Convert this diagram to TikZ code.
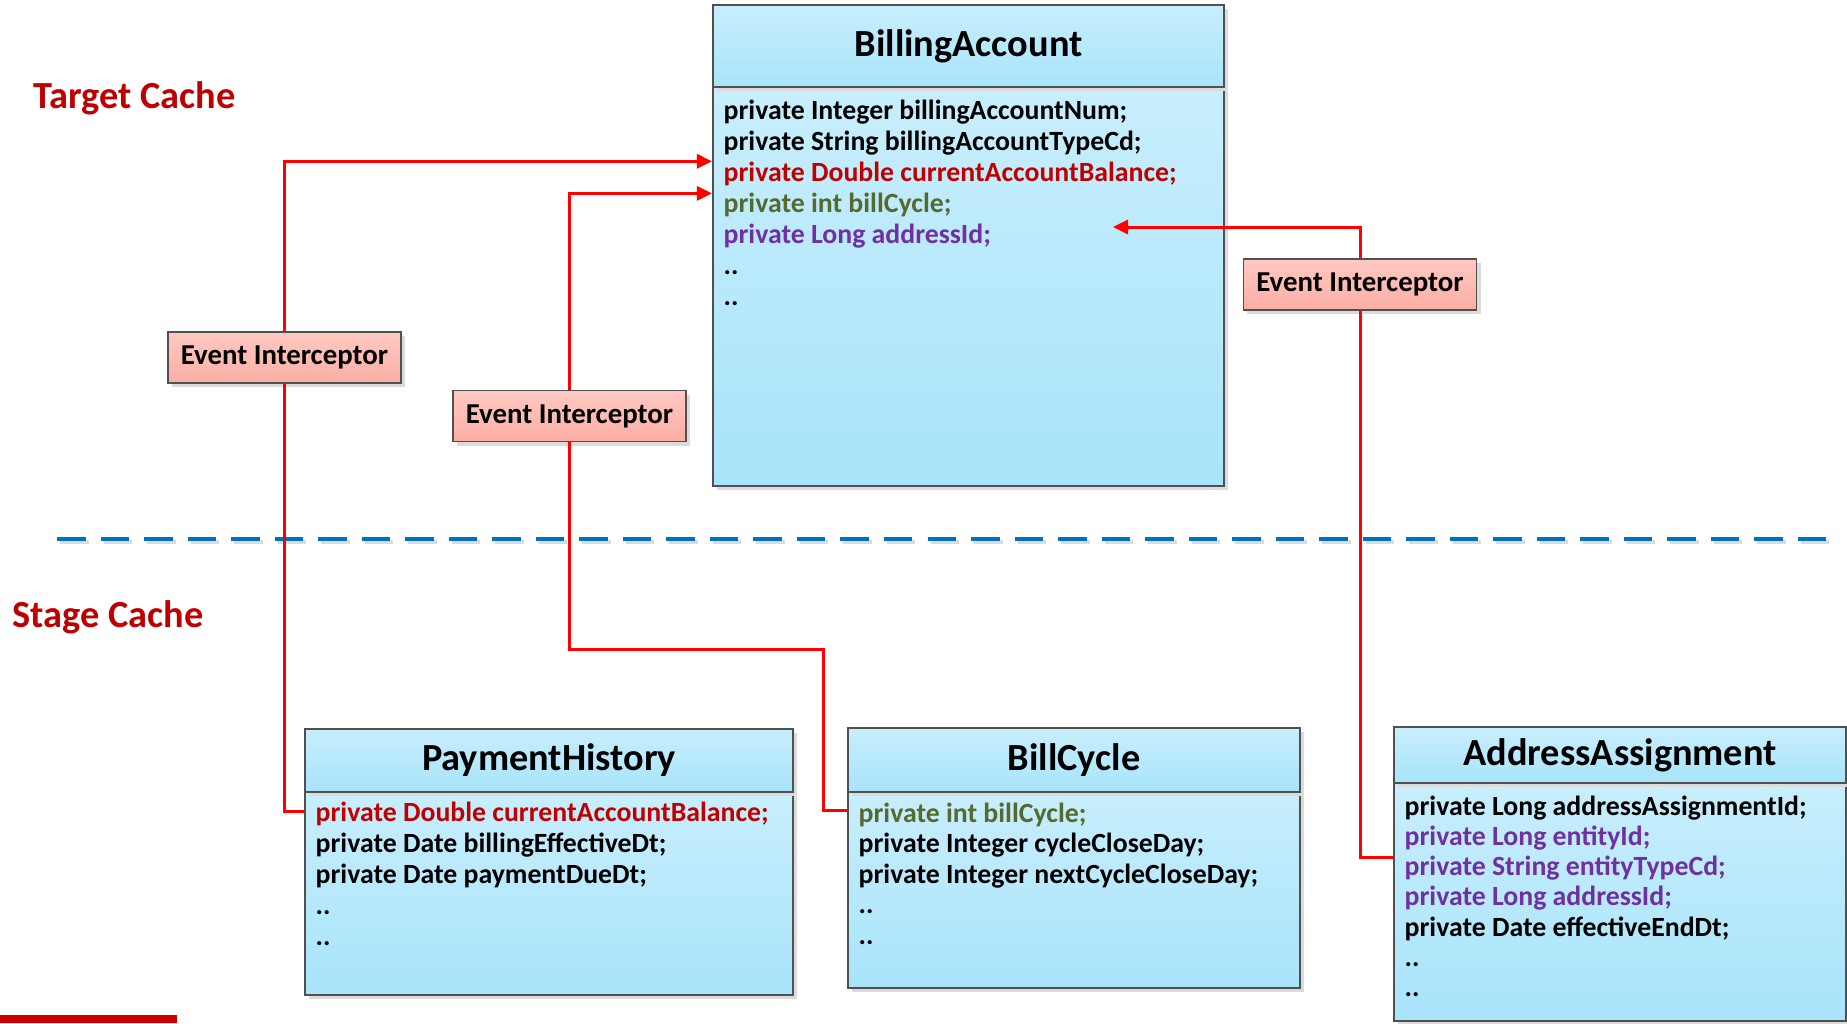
\documentclass[tikz,border=0pt]{standalone}
\usepackage{fontspec}
\setmainfont{Carlito}
\usepackage{tikz}
\usetikzlibrary{arrows.meta, shadows, positioning}

\definecolor{capred}{RGB}{192,0,0}
\definecolor{barred}{RGB}{204,0,0}
\definecolor{wirered}{RGB}{255,0,0}
\definecolor{fieldolive}{RGB}{86,105,46}
\definecolor{fieldpurple}{RGB}{112,48,160}
\definecolor{linegray}{RGB}{80,80,80}
\definecolor{skytop}{RGB}{200,238,252}
\definecolor{skybot}{RGB}{168,228,251}
\definecolor{pinktop}{RGB}{255,201,194}
\definecolor{pinkbot}{RGB}{250,174,164}
\definecolor{sepblue}{RGB}{0,112,192}

\begin{document}
\begin{tikzpicture}[
  x=0.01cm, y=-0.01cm,
  boxshadow/.style={drop shadow={shadow xshift=0.04cm, shadow yshift=-0.04cm, fill=black!14, opacity=1}},
  classpart/.style={rectangle, draw=linegray, line width=0.018cm, top color=skytop, bottom color=skybot, anchor=north west, inner sep=0, boxshadow},
  classname/.style={classpart, font=\fontsize{10.9}{13}\selectfont\bfseries},
  field/.style={anchor=base west, inner xsep=0.11cm, inner ysep=0, font=\fontsize{7.9}{9}\selectfont\bfseries},
  hook/.style={rectangle, draw=linegray, line width=0.018cm, top color=pinktop, bottom color=pinkbot, minimum width=2.33cm, minimum height=0.51cm, inner sep=0, font=\fontsize{8.2}{10}\selectfont\bfseries, boxshadow},
  cachelabel/.style={anchor=base west, inner sep=0, text=capred, font=\fontsize{10.9}{13}\selectfont\bfseries},
  wire/.style={draw=wirered, line width=0.03cm},
  feed/.style={wire, -{Triangle[length=0.15cm, width=0.14cm]}},
  separator/.style={line width=0.04cm, dash pattern=on 0.285cm off 0.15cm}
]
\useasboundingbox (0,0) rectangle (1847,1023);

% section titles
\node[cachelabel] (target) at (33,108) {Target Cache};
\node[cachelabel] (stage) at (12,627) {Stage Cache};

% target side: BillingAccount
\node[classpart, minimum width=5.11cm, minimum height=3.99cm] (ba-body) at (712,86) {};
\node[classname, minimum width=5.11cm, minimum height=0.82cm] (ba) at (712,4) {BillingAccount};
\foreach \col/\txt [count=\i] in {black/private Integer billingAccountNum;, black/private String billingAccountTypeCd;, capred/private Double currentAccountBalance;, fieldolive/private int billCycle;, fieldpurple/private Long addressId;, black/{..}, black/{..}}
  \node[field, text=\col] (ba\i) at (712, 88+31.1*\i) {\txt};

% stage side: PaymentHistory
\node[classpart, minimum width=4.88cm, minimum height=2.03cm] (ph-body) at (304,791) {};
\node[classname, minimum width=4.88cm, minimum height=0.63cm] (ph) at (304,728) {PaymentHistory};
\foreach \col/\txt [count=\i] in {capred/private Double currentAccountBalance;, black/private Date billingEffectiveDt;, black/private Date paymentDueDt;, black/{..}, black/{..}}
  \node[field, text=\col] (ph\i) at (304, 791+30.8*\i) {\txt};

% stage side: BillCycle
\node[classpart, minimum width=4.52cm, minimum height=1.96cm] (bc-body) at (847,791) {};
\node[classname, minimum width=4.52cm, minimum height=0.64cm] (bc) at (847,727) {BillCycle};
\foreach \col/\txt [count=\i] in {fieldolive/private int billCycle;, black/private Integer cycleCloseDay;, black/private Integer nextCycleCloseDay;, black/{..}, black/{..}}
  \node[field, text=\col] (bc\i) at (847, 792+30.4*\i) {\txt};

% stage side: AddressAssignment
\node[classpart, minimum width=4.52cm, minimum height=2.38cm] (aa-body) at (1393,782) {};
\node[classname, minimum width=4.52cm, minimum height=0.56cm] (aa) at (1393,726) {AddressAssignment};
\foreach \col/\txt [count=\i] in {black/private Long addressAssignmentId;, fieldpurple/private Long entityId;, fieldpurple/private String entityTypeCd;, fieldpurple/private Long addressId;, black/private Date effectiveEndDt;, black/{..}, black/{..}}
  \node[field, text=\col] (aa\i) at (1393, 784.7+30.3*\i) {\txt};

% interceptors
\node[hook] (hook1) at (284.5,357.5) {Event Interceptor};
\node[hook] (hook2) at (569.5,416) {Event Interceptor};
\node[hook] (hook3) at (1360,284.5) {Event Interceptor};

% dashed border between the caches
\coordinate (sep-l) at (57,539);
\coordinate (sep-r) at (1826,539);
\draw[separator, black!14] ([xshift=0.03cm, yshift=-0.03cm]sep-l) -- ([xshift=0.03cm, yshift=-0.03cm]sep-r);
\draw[separator, sepblue] (sep-l) -- (sep-r);

% wiring
\coordinate (ba-tip) at (1113,227);
\coordinate (bend2) at (823,649);
\draw[feed] (hook1.north) |- ([yshift=0.2cm]ba3.base west);
\draw[feed] (hook2.north) |- ([yshift=0.19cm]ba4.base west);
\draw[feed] (hook3.north) |- (ba-tip);
\draw[wire] (hook1.south) |- ([yshift=0.1cm]ph1.base west);
\draw[wire] (hook2.south) |- (bend2) |- ([yshift=0.12cm]bc1.base west);
\draw[wire] (hook3.south) |- ([yshift=0.18cm]aa3.base west);

\fill[barred] (0,1015) rectangle (177,1023);
\end{tikzpicture}
\end{document}
